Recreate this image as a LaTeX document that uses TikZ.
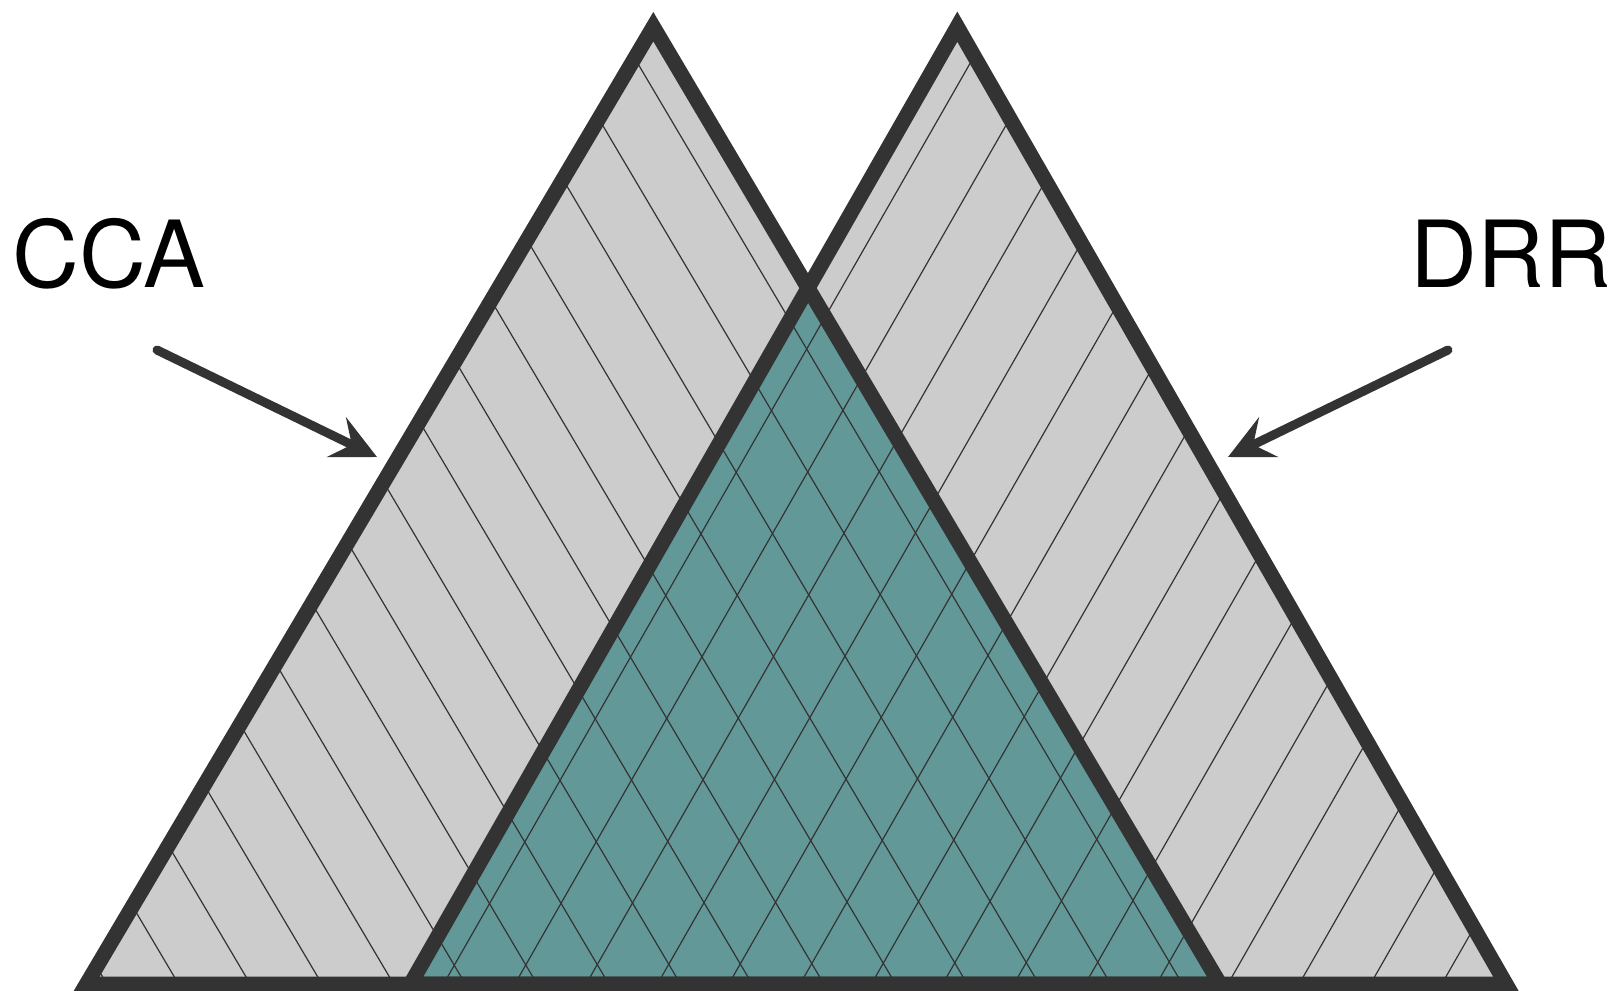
\documentclass[tikz,border=0pt]{standalone}
\usepackage{fontspec}
\setmainfont{TeX Gyre Heros}
\usetikzlibrary{arrows.meta}
\definecolor{strokec}{HTML}{333333}
\definecolor{fillgray}{HTML}{CCCCCC}
\definecolor{tealc}{HTML}{639898}
\begin{document}
\begin{tikzpicture}[x=0.5pt,y=-0.5pt,
  tri/.style={draw=strokec, line width=7.5pt, line join=miter},
  hatch/.style={draw=strokec, line width=0.6pt},
  pointer/.style={draw=strokec, line width=4.5pt, line cap=round, -{Stealth[length=22.5pt,width=22pt,inset=8.5pt]}},
  lab/.style={inner sep=0pt, font=\fontsize{46.3}{55}\selectfont, anchor=base west}]
\useasboundingbox (0,0) rectangle (1613,991);
\coordinate (LA) at (653.3,26.7);
\coordinate (LL) at (86.5,984);
\coordinate (LR) at (1220,984);
\coordinate (RA) at (957.3,26.7);
\coordinate (RL) at (410.5,984);
\coordinate (RR) at (1506,984);
\coordinate (X) at (intersection of LA--LR and RA--RL);
\fill[fillgray] (LA) -- (LL) -- (LR) -- cycle;
\fill[fillgray] (RA) -- (RL) -- (RR) -- cycle;
\fill[tealc] (X) -- (RL) -- (LR) -- cycle;
\begin{scope}
  \clip (LA) -- (LL) -- (LR) -- cycle;
  \foreach \k in {-1,...,17} {
    \pgfmathsetmacro\xz{103.3+71.7*\k}
    \draw[hatch] (\xz-591.6, -22) -- (\xz+17.75, 1008);
  }
\end{scope}
\begin{scope}
  \clip (RA) -- (RL) -- (RR) -- cycle;
  \foreach \k in {-5,...,13} {
    \pgfmathsetmacro\xz{1231.3-71.3*\k}
    \draw[hatch] (\xz+571.9, -22) -- (\xz-17.16, 1008);
  }
\end{scope}
\draw[tri] (LA) -- (LL) -- (LR) -- cycle;
\draw[tri] (RA) -- (RL) -- (RR) -- cycle;
\node[lab] (cca) at (12,287) {CCA};
\node[lab] (drr) at (1410,287) {DRR};
\coordinate (ccaS) at (157,350);
\coordinate (ccaT) at (377,457);
\coordinate (drrS) at (1448,350);
\coordinate (drrT) at (1228,457);
\draw[pointer] (ccaS) -- (ccaT);
\draw[pointer] (drrS) -- (drrT);
\end{tikzpicture}
\end{document}
